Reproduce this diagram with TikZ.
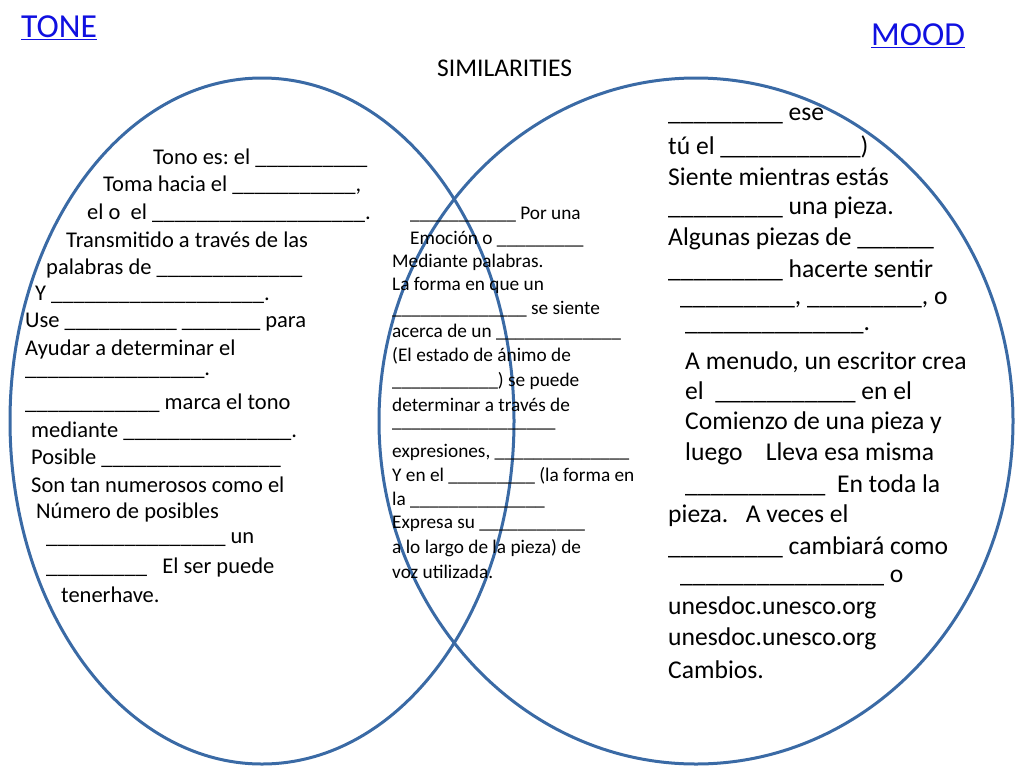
\documentclass[tikz,border=0pt]{standalone}
\usepackage{fontspec}
\setmainfont{Carlito}
\frenchspacing
\definecolor{ring}{HTML}{3A6AA5}
\definecolor{lnk}{HTML}{1010E0}
\tikzset{
 lt/.style={anchor=west,inner sep=0pt,font=\fontsize{22.5}{26}\selectfont},
 mt/.style={anchor=west,inner sep=0pt,font=\fontsize{19.3}{22}\selectfont},
 rt/.style={anchor=west,inner sep=0pt,font=\fontsize{25.6}{30}\selectfont},
 ttl/.style={anchor=west,inner sep=0pt,text=lnk,font=\fontsize{33.6}{38}\selectfont},
 ring/.style={draw=ring,line width=3pt}
}
\begin{document}
\catcode`\_=12
\begin{tikzpicture}[x=1pt,y=-1pt]
\useasboundingbox (0,0) rectangle (1024,768);
\draw[ring] (262,421) ellipse[x radius=252,y radius=343];
\draw[ring] (696,421) ellipse[x radius=317,y radius=343];
\node[ttl] (tone) at (21,28) {\underline{TONE}};
\node[ttl] (mood) at (871,36) {\underline{MOOD}};
\node[anchor=west,inner sep=0pt,font=\fontsize{25.5}{30}\selectfont] (sim) at (437,68) {SIMILARITIES};
% left
\node[lt] (l1) at (153,158) {Tono es: el __________};
\node[lt] (l2) at (103,185) {Toma hacia el ___________,};
\node[lt] (l3) at (87,213) {el o\ \ el ___________________.};
\node[lt] (l4) at (66,240) {Transmitido a través de las};
\node[lt] (l5) at (46,268) {palabras de _____________};
\node[lt] (l6) at (35,295) {Y ___________________.};
\node[lt] (l7) at (25,322) {Use __________ _______ para};
\node[lt] (l8) at (25,349) {Ayudar a determinar el};
\node[lt] (l9) at (25,376) {________________.};
\node[lt] (l10) at (25,403) {____________ marca el tono};
\node[lt] (l11) at (31,431) {mediante _______________.};
\node[lt] (l12) at (31,458) {Posible ________________};
\node[lt] (l13) at (31,485) {Son tan numerosos como el};
\node[lt] (l14) at (36,512) {Número de posibles};
\node[lt] (l15) at (46,540) {________________ un};
\node[lt] (l16) at (46,567) {_________\ \ \ El ser puede};
\node[lt] (l17) at (61,595) {tenerhave.};
% middle
\node[mt] (m1) at (410,215) {___________ Por una};
\node[mt] (m2) at (410,239) {Emoción o _________};
\node[mt] (m3) at (392,262) {Mediante palabras.};
\node[mt] (m4) at (392,285) {La forma en que un};
\node[mt] (m5) at (392,309) {______________ se siente};
\node[mt] (m6) at (392,332) {acerca de un _____________};
\node[mt] (m7) at (392,356) {(El estado de ánimo de};
\node[mt] (m8) at (392,381) {___________) se puede};
\node[mt] (m9) at (392,405) {determinar a través de};
\node[mt] (m10) at (392,429) {_________________};
\node[mt] (m11) at (392,452) {expresiones, ______________};
\node[mt] (m12) at (392,476) {Y en el _________ (la forma en};
\node[mt] (m13) at (392,500) {la ______________};
\node[mt] (m14) at (392,524) {Expresa su ___________};
\node[mt] (m15) at (392,548) {a lo largo de la pieza) de};
\node[mt] (m16) at (392,572) {voz utilizada.};
% right
\node[rt] (r1) at (668,116) {_________ ese};
\node[rt] (r2) at (668,147) {tú el ___________)};
\node[rt] (r3) at (668,177) {Siente mientras estás};
\node[rt] (r4) at (668,208) {_________ una pieza.};
\node[rt] (r5) at (668,239) {Algunas piezas de ______};
\node[rt] (r6) at (668,270) {_________ hacerte sentir};
\node[rt] (r7) at (680,300) {_________, _________, o};
\node[rt] (r8) at (685,331) {______________.};
\node[rt] (r9) at (685,362) {A menudo, un escritor crea};
\node[rt] (r10) at (685,392) {el\ \ ___________ en el};
\node[rt] (r11) at (685,423) {Comienzo de una pieza y};
\node[rt] (r12) at (685,454) {luego\ \ \ \ Lleva esa misma};
\node[rt] (r13) at (685,485) {___________\ \ En toda la};
\node[rt] (r14) at (668,516) {pieza.\ \ \ A veces el};
\node[rt] (r15) at (668,547) {_________ cambiará como};
\node[rt] (r16) at (680,578) {________________ o};
\node[rt] (r17) at (668,608) {unesdoc.unesco.org};
\node[rt] (r18) at (668,639) {unesdoc.unesco.org};
\node[rt] (r19) at (668,670) {Cambios.};
\end{tikzpicture}
\end{document}
